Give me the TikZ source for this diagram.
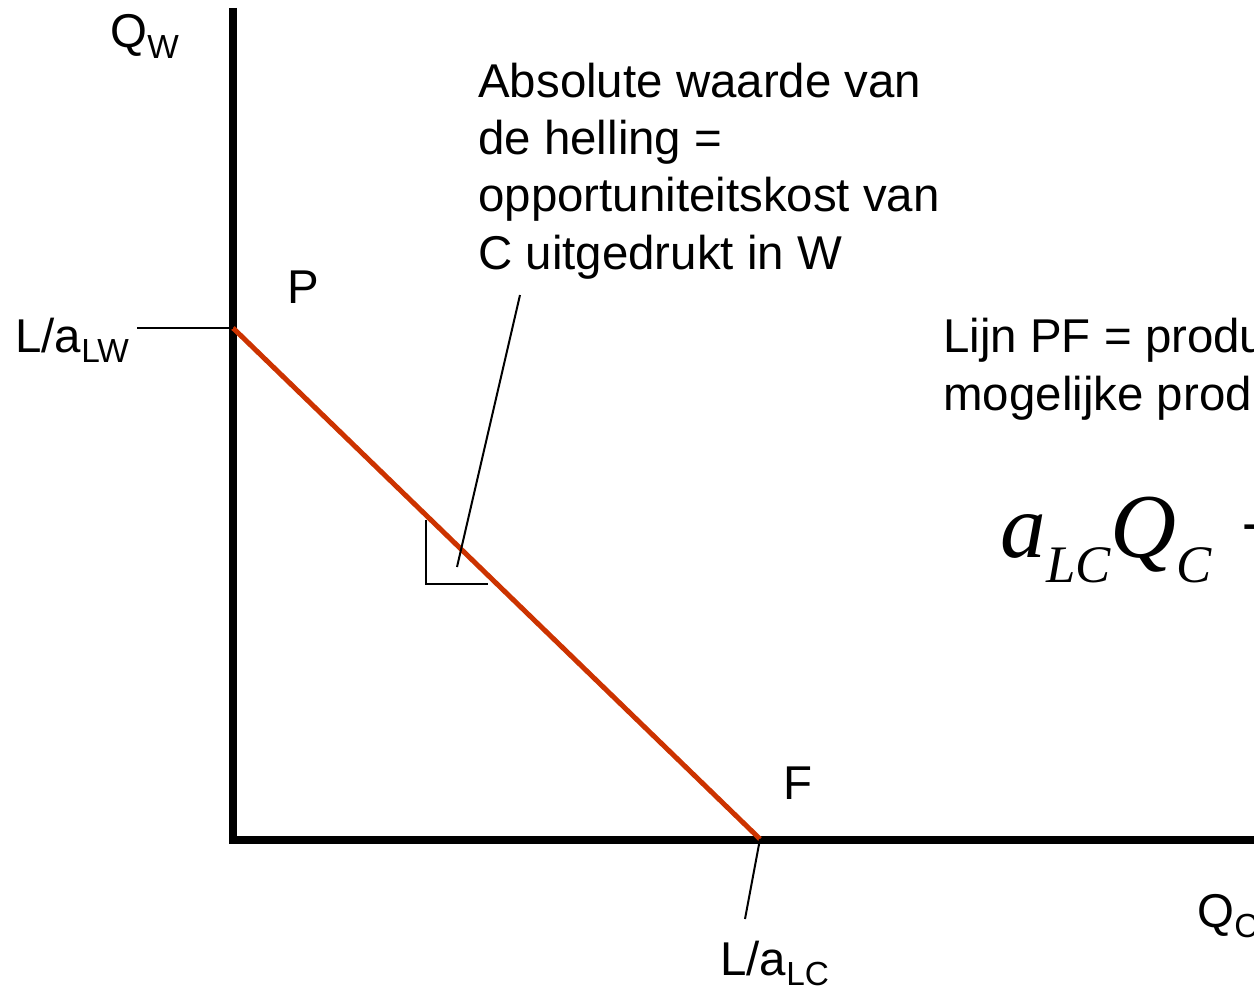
\documentclass[tikz,border=0pt]{standalone}
\usepackage{fontspec}
\setmainfont{Liberation Sans}
\newfontfamily\timesfont{Liberation Serif}
\usetikzlibrary{positioning}
\definecolor{pfred}{RGB}{204,51,0}
\newcommand{\lowsub}[1]{\raisebox{-0.23em}{\fontsize{19}{19}\selectfont #1}}
\newcommand{\eqsub}[1]{\raisebox{-14.7pt}{\fontsize{30}{30}\selectfont #1}}

\begin{document}
\begin{tikzpicture}[
    x=0.02cm, y=-0.02cm,
    axis/.style={line width=0.15cm, line join=miter},
    ppf/.style={line width=0.1cm, pfred},
    leader/.style={line width=0.04cm},
    lbl/.style={inner sep=0, anchor=base west, font=\fontsize{27}{32.6}\selectfont},
    note/.style={lbl, align=left}
]
    \useasboundingbox (0,0) rectangle (1254,990);
    \clip (0,0) rectangle (1254,990);

    % Axes
    \coordinate (ytop) at (233,8);
    \coordinate (O) at (233,840);
    \coordinate (xend) at (1270,840);
    \draw[axis] (ytop) -- (O) -- (xend);

    % Production possibility frontier
    \coordinate (P) at (233,328);
    \coordinate (F) at (760,839);
    \draw[ppf] (P) -- (F);

    % Ticks and pointers
    \coordinate (lwtick) at (137,328);
    \coordinate (lctick) at (745,919);
    \coordinate (slopetip) at (520,295);
    \coordinate (slopeend) at (457,567);
    \draw[leader] (lwtick) -- (P);
    \draw[leader] (F) -- (lctick);
    \draw[leader] (slopetip) -- (slopeend);
    \draw[line width=0.05cm] (426,520) -- (426,584) -- (488,584);

    % Labels
    \node[lbl] (qw) at (110,48) {Q\lowsub{W}};
    \node[lbl] (lw) at (15,352) {L/a\lowsub{LW}};
    \node[lbl] (plabel) at (287,303) {P};
    \node[lbl] (flabel) at (783,799) {F};
    \node[lbl] (lc) at (720,975) {L/a\lowsub{LC}};
    \node[lbl] (qc) at (1197,927) {Q\lowsub{C}};

    % Notes (anchored at the last line)
    \node[note] (slope) at (478,269) {Absolute waarde van\\de helling =\\opportuniteitskost van\\C uitgedrukt in W};
    \node[note] (pfline) at (943,410) {Lijn PF = produ\\mogelijke prod};
    \node[inner sep=0, anchor=base west] (eq) at (1000,557)
        {\timesfont\itshape\fontsize{52}{52}\selectfont a\eqsub{LC}Q\eqsub{C} +};
\end{tikzpicture}
\end{document}
